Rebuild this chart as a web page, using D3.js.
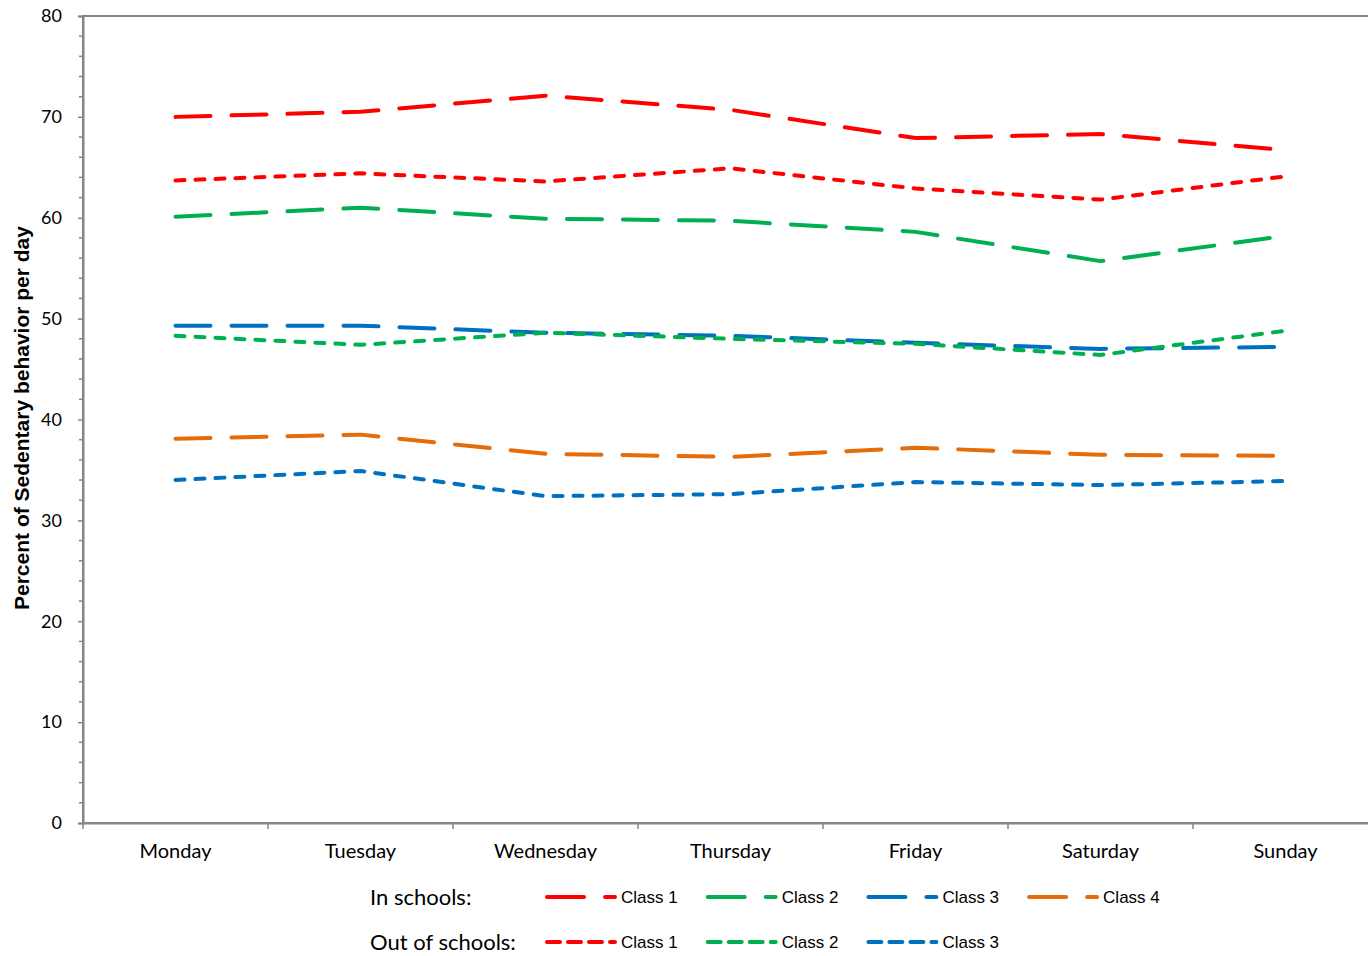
<!DOCTYPE html>
<html>
<head>
<meta charset="utf-8">
<script src="https://cdn.jsdelivr.net/npm/d3@7/dist/d3.min.js"></script>
<style>
  html, body { margin: 0; padding: 0; background: #fff; }
  svg { display: block; }
</style>
</head>
<body>
<svg id="chart" width="1368" height="956"></svg>
<script>
// ---- data ----
const days = ["Monday", "Tuesday", "Wednesday", "Thursday", "Friday", "Saturday", "Sunday"];
const yTicks = [0, 10, 20, 30, 40, 50, 60, 70, 80];

const inClass1  = [70.0, 70.5, 72.1, 70.7, 67.9, 68.3, 66.7];
const inClass2  = [60.1, 61.0, 59.9, 59.7, 58.6, 55.7, 58.2];
const inClass3  = [49.3, 49.3, 48.6, 48.3, 47.6, 47.0, 47.2];
const inClass4  = [38.1, 38.5, 36.6, 36.3, 37.2, 36.5, 36.4];
const outClass1 = [63.7, 64.4, 63.6, 64.9, 62.9, 61.8, 64.1];
const outClass2 = [48.3, 47.4, 48.6, 48.0, 47.5, 46.4, 48.8];
const outClass3 = [34.0, 34.9, 32.4, 32.6, 33.8, 33.5, 33.9];

const seriesNames = ["Class 1", "Class 2", "Class 3", "Class 4"];
const legendGroups = ["In schools:", "Out of schools:"];

// ---- styles ----
const colors = { c1: "#FF0000", c2: "#00B050", c3: "#0070C0", c4: "#E46C0A" };
const longDash = "35,21";
const shortDash = "9,11";
const legendLong = "37,21";
const legendShort = "13,8";

const series = [
  { values: inClass1,  color: colors.c1, dash: longDash,  ldash: legendLong },
  { values: inClass2,  color: colors.c2, dash: longDash,  ldash: legendLong },
  { values: inClass3,  color: colors.c3, dash: longDash,  ldash: legendLong },
  { values: inClass4,  color: colors.c4, dash: longDash,  ldash: legendLong },
  { values: outClass1, color: colors.c1, dash: shortDash, ldash: legendShort },
  { values: outClass2, color: colors.c2, dash: shortDash, ldash: legendShort },
  { values: outClass3, color: colors.c3, dash: shortDash, ldash: legendShort }
];

const svg = d3.select("#chart");
const mLeft = 83, mTop = 16, mBottom = 823, bandW = 185;
const mRight = mLeft + bandW * days.length;

const x = d3.scaleBand().domain(days).range([mLeft, mRight]).padding(0);
const y = d3.scaleLinear().domain([0, 80]).range([mBottom, mTop]);

const axisColor = "#868686";

// plot border
svg.append("rect")
  .attr("x", mLeft).attr("y", mTop)
  .attr("width", mRight - mLeft).attr("height", mBottom - mTop)
  .attr("fill", "none").attr("stroke", axisColor).attr("stroke-width", 2);

// y axis
const yAxis = d3.axisLeft(y).tickValues(yTicks).tickSize(5).tickPadding(16).tickFormat(d3.format("d"));
const gy = svg.append("g").attr("transform", `translate(${mLeft},0)`).call(yAxis);
gy.select(".domain").attr("stroke", axisColor).attr("stroke-width", 2);
gy.selectAll(".tick line").attr("stroke", axisColor).attr("stroke-width", 1.5);
gy.selectAll(".tick text")
  .attr("font-family", "Lato, 'Open Sans', sans-serif")
  .attr("font-size", 18).attr("fill", "#000");
// minor ticks
const minor = d3.range(0, 80, 2).filter(v => v % 10 !== 0);
gy.selectAll(".minor").data(minor).enter().append("line")
  .attr("x1", -4).attr("x2", 0)
  .attr("y1", d => y(d)).attr("y2", d => y(d))
  .attr("stroke", axisColor).attr("stroke-width", 1.5);

// x axis
const gx = svg.append("g").attr("transform", `translate(0,${mBottom})`)
  .call(d3.axisBottom(x).tickSize(0).tickPadding(21));
gx.select(".domain").attr("stroke", axisColor).attr("stroke-width", 2);
gx.selectAll(".tick text")
  .attr("font-family", "Lato, 'Open Sans', sans-serif")
  .attr("font-size", 20).attr("fill", "#000");
// x boundary ticks
const bounds = d3.range(days.length + 1).map(i => mLeft + i * x.bandwidth());
svg.append("g").selectAll("line").data(bounds).enter().append("line")
  .attr("x1", d => d).attr("x2", d => d)
  .attr("y1", mBottom).attr("y2", mBottom + 6)
  .attr("stroke", axisColor).attr("stroke-width", 1.5);

// y title
svg.append("text")
  .attr("transform", `translate(29,418) rotate(-90)`)
  .attr("text-anchor", "middle")
  .attr("font-family", "'Liberation Sans', Arial, sans-serif")
  .attr("font-weight", "bold").attr("font-size", 21)
  .text("Percent of Sedentary behavior per day");

// lines
const line = d3.line()
  .x((d, i) => x(days[i]) + x.bandwidth() / 2)
  .y(d => y(d))
  .curve(d3.curveLinear);

const plot = svg.append("g");
series.forEach(s => {
  plot.append("path")
    .attr("d", line(s.values))
    .attr("fill", "none")
    .attr("stroke", s.color)
    .attr("stroke-width", 4)
    .attr("stroke-dasharray", s.dash)
    .attr("stroke-linecap", "round")
    .attr("stroke-linejoin", "round");
});

// legend
const legendRows = [
  { label: legendGroups[0], y: 897, items: series.slice(0, 4), names: seriesNames },
  { label: legendGroups[1], y: 942, items: series.slice(4), names: seriesNames.slice(0, 3) }
];
const lg = svg.append("g");
legendRows.forEach(row => {
  lg.append("text")
    .attr("x", 370).attr("y", row.y).attr("dy", "0.35em")
    .attr("font-family", "Lato, 'Open Sans', sans-serif")
    .attr("font-size", 22).attr("fill", "#000")
    .text(row.label);
  row.items.forEach((s, i) => {
    const x0 = 547 + i * 160.7;
    lg.append("line")
      .attr("x1", x0).attr("x2", x0 + 68)
      .attr("y1", row.y).attr("y2", row.y)
      .attr("stroke", s.color).attr("stroke-width", 4)
      .attr("stroke-dasharray", s.ldash)
      .attr("stroke-linecap", "round");
    lg.append("text")
      .attr("x", x0 + 74).attr("y", row.y).attr("dy", "0.35em")
      .attr("font-family", "'Liberation Sans', Arial, sans-serif")
      .attr("font-size", 17).attr("fill", "#000")
      .text(row.names[i]);
  });
});
</script>
</body>
</html>
